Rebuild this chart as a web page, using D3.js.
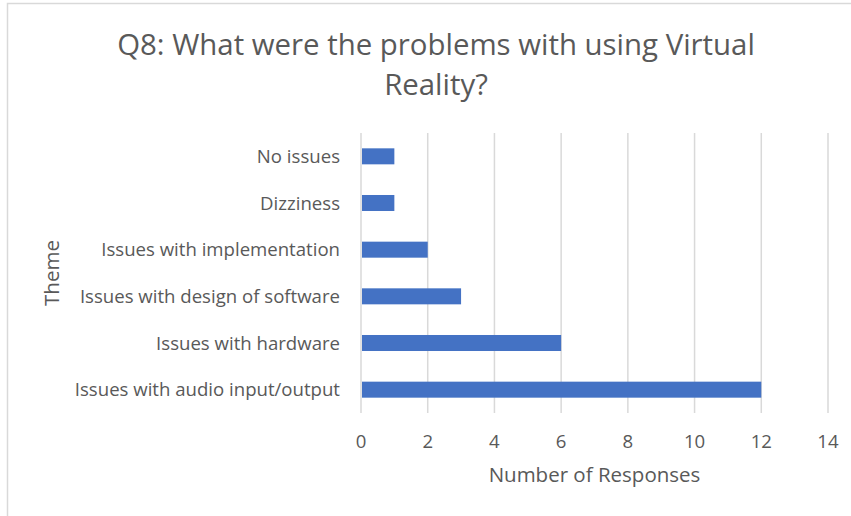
<!DOCTYPE html>
<html>
<head>
<meta charset="utf-8">
<script src="https://cdn.jsdelivr.net/npm/d3@7"></script>
<style>
  html, body { margin: 0; padding: 0; background: #fff; }
  svg { display: block; font-family: "Open Sans", sans-serif; }
</style>
</head>
<body>
<div id="chart"></div>
<script>
/* Q8 horizontal bar chart */

const themes = [
  "No issues",
  "Dizziness",
  "Issues with implementation",
  "Issues with design of software",
  "Issues with hardware",
  "Issues with audio input/output"
];
const responses = [1, 1, 2, 3, 6, 12];
const xTicks = [0, 2, 4, 6, 8, 10, 12, 14];
const titleLines = ["Q8: What were the problems with using Virtual", "Reality?"];

const width = 851, height = 516;
const margin = { top: 133, right: 23, bottom: 103, left: 361 };

const svg = d3.select("#chart")
  .append("svg")
  .attr("width", width)
  .attr("height", height);

// chart frame
svg.append("rect")
  .attr("x", 7.5)
  .attr("y", 3.5)
  .attr("width", width + 10)
  .attr("height", height + 10)
  .attr("fill", "#fff")
  .attr("stroke", "#d9d9d9")
  .attr("stroke-width", 1.5);

const x = d3.scaleLinear()
  .domain([0, 14])
  .range([margin.left, width - margin.right]);

const y = d3.scaleBand()
  .domain(themes)
  .range([margin.top, height - margin.bottom])
  .paddingInner(0.657)
  .paddingOuter(0.3285);

// Gridlines
svg.selectAll(".grid")
  .data(xTicks)
  .join("line")
  .attr("class", "grid")
  .attr("x1", d => x(d))
  .attr("x2", d => x(d))
  .attr("y1", margin.top)
  .attr("y2", height - margin.bottom)
  .attr("stroke", "#d9d9d9")
  .attr("stroke-width", 1.5);

// Bars
svg.selectAll(".bar")
  .data(themes)
  .join("rect")
  .attr("class", "bar")
  .attr("x", x(0) + 1)
  .attr("y", d => y(d))
  .attr("width", (d, i) => x(responses[i]) - x(0) - 1)
  .attr("height", y.bandwidth())
  .attr("fill", "#4472c4");

// Category labels
svg.selectAll(".cat-label")
  .data(themes)
  .join("text")
  .attr("class", "cat-label")
  .attr("x", margin.left - 21)
  .attr("y", d => y(d) + y.bandwidth() / 2)
  .attr("dy", "0.35em")
  .attr("text-anchor", "end")
  .attr("font-size", 18.6)
  .attr("fill", "#595959")
  .text(d => d);

// Tick labels
svg.selectAll(".tick-label")
  .data(xTicks)
  .join("text")
  .attr("class", "tick-label")
  .attr("x", d => x(d))
  .attr("y", 441)
  .attr("dy", "0.35em")
  .attr("text-anchor", "middle")
  .attr("font-size", 18.6)
  .attr("fill", "#595959")
  .text(d => d);

// Axis titles
svg.append("text")
  .attr("x", (x(0) + x(14)) / 2)
  .attr("y", 475)
  .attr("dy", "0.35em")
  .attr("text-anchor", "middle")
  .attr("font-size", 20.5)
  .attr("fill", "#595959")
  .text("Number of Responses");

svg.append("text")
  .attr("transform", `translate(52, ${(margin.top + height - margin.bottom) / 2}) rotate(-90)`)
  .attr("dy", "0.35em")
  .attr("text-anchor", "middle")
  .attr("font-size", 20.5)
  .attr("fill", "#595959")
  .text("Theme");

// Title
svg.selectAll(".title")
  .data(titleLines)
  .join("text")
  .attr("class", "title")
  .attr("x", 436)
  .attr("y", (d, i) => 45 + i * 40)
  .attr("dy", "0.35em")
  .attr("text-anchor", "middle")
  .attr("font-size", 29.4)
  .attr("fill", "#595959")
  .text(d => d);
</script>
</body>
</html>
